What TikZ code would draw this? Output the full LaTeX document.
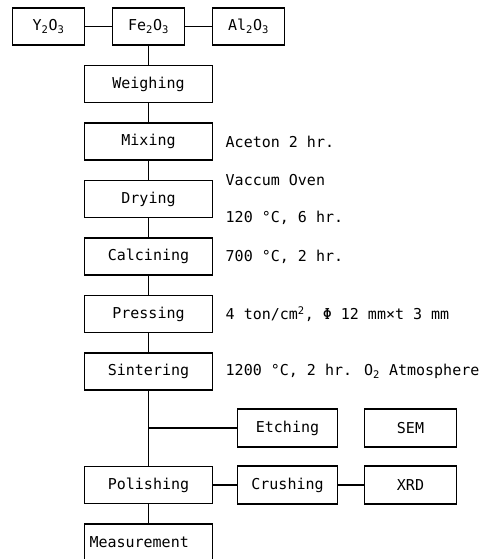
\documentclass[tikz,border=0pt]{standalone}
\usepackage{fontspec}
\setmainfont{DejaVu Sans Mono}
\usetikzlibrary{positioning}

\begin{document}
\begin{tikzpicture}[
    x=1pt, y=1pt,
    node distance=19.3pt,
    every node/.style={font=\fontsize{15}{18}\selectfont},
    oxide/.style={rectangle, minimum width=72pt, minimum height=37pt, inner sep=2pt, text centered, draw=black, line width=1.2pt},
    process/.style={rectangle, minimum width=128pt, minimum height=37pt, inner sep=2pt, text centered, draw=black, line width=1.2pt},
    analysis/.style={rectangle, minimum width=100pt, minimum height=38pt, inner sep=2pt, text centered, draw=black, line width=1.2pt},
    device/.style={rectangle, minimum width=92pt, minimum height=38pt, inner sep=2pt, text centered, draw=black, line width=1.2pt},
    cond/.style={anchor=west, inner sep=0pt},
    line/.style={line width=1.2pt},
]

    \clip (0,0) rectangle (487,559);

    % starting powders
    \node (fe2o3) [oxide] at (148.5,532.5) {Fe\textsubscript{2}O\textsubscript{3}};
    \node (y2o3) [oxide, left=26.8pt of fe2o3] {Y\textsubscript{2}O\textsubscript{3}};
    \node (al2o3) [oxide, right=26.8pt of fe2o3] {Al\textsubscript{2}O\textsubscript{3}};

    % process steps
    \node (weighing) [process, below=of fe2o3] {Weighing};
    \node (mixing) [process, below=of weighing] {Mixing};
    \node (drying) [process, below=of mixing] {Drying};
    \node (calcining) [process, below=of drying] {Calcining};
    \node (pressing) [process, below=of calcining] {Pressing};
    \node (sintering) [process, below=of pressing] {Sintering};
    \node (polishing) [process, below=75.3pt of sintering] {Polishing};
    \node (measurement) [process, text width=118pt, align=left, inner xsep=5pt, below=of polishing] {Measurement};

    % analysis branch
    \node (crushing) [analysis, right=23.8pt of polishing] {Crushing};
    \node (etching) [analysis, above=17.8pt of crushing] {Etching};
    \node (xrd) [device, right=25.8pt of crushing] {XRD};
    \node (sem) [device, above=17.8pt of xrd] {SEM};

    % conditions
    \node (c_mix) [cond, right=12.4pt of mixing] {Aceton 2 hr.};
    \node (c_dry1) [cond, right=12.4pt of drying.north east] {Vaccum Oven};
    \node (c_dry2) [cond, right=12.4pt of drying.south east] {120 °C, 6 hr.};
    \node (c_calc) [cond, right=12.4pt of calcining] {700 °C, 2 hr.};
    \node (c_press) [cond, right=12.4pt of pressing] {4 ton/cm\textsuperscript{2}, Φ 12 mm×t 3 mm};
    \node (c_sint) [cond, right=12.4pt of sintering] {1200 °C, 2 hr. O\textsubscript{2} Atmosphere};

    \draw [line] (y2o3) -- (fe2o3);
    \draw [line] (fe2o3) -- (al2o3);
    \draw [line] (fe2o3) -- (weighing);
    \draw [line] (weighing) -- (mixing);
    \draw [line] (mixing) -- (drying);
    \draw [line] (drying) -- (calcining);
    \draw [line] (calcining) -- (pressing);
    \draw [line] (pressing) -- (sintering);
    \draw [line] (sintering) -- (polishing);
    \coordinate (fork) at (sintering.south |- etching.west);
    \draw [line] (fork) -- (etching);
    \draw [line] (polishing) -- (crushing);
    \draw [line] (crushing) -- (xrd);
    \draw [line] (polishing) -- (measurement);

\end{tikzpicture}
\end{document}
